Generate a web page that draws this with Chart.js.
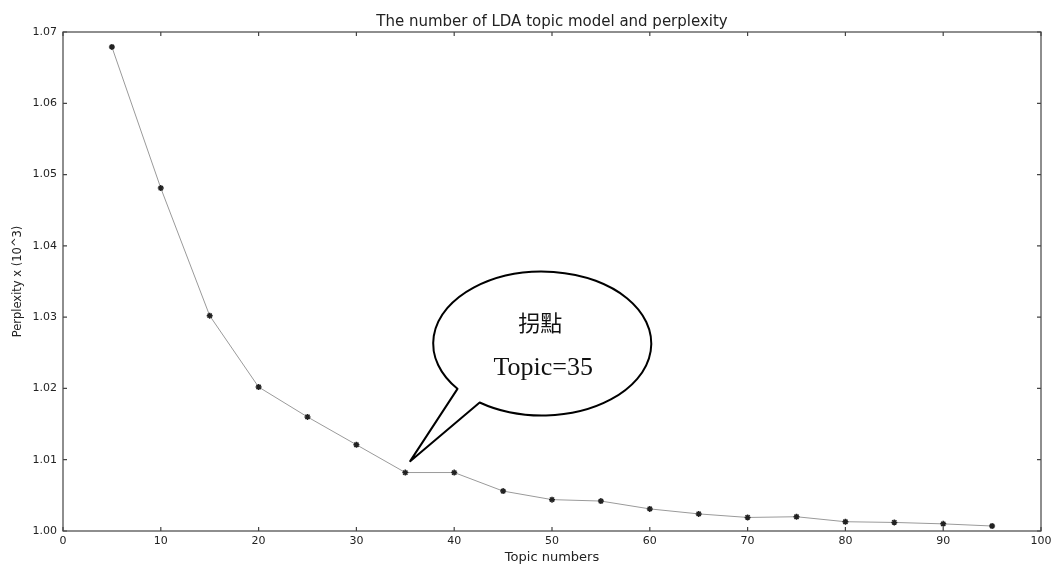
<!DOCTYPE html>
<html>
<head>
<meta charset="utf-8">
<script src="https://cdn.jsdelivr.net/npm/chart.js@4/dist/chart.umd.min.js"></script>
<style>
  html, body { margin: 0; padding: 0; background: #fff; }
  #wrap { width: 1053px; height: 565px; }
</style>
</head>
<body>
<div id="wrap"><canvas id="chart" width="1053" height="565"></canvas></div>
<script>
// ─── data ────────────────────────────────────────────────────────
const topics     = [5, 10, 15, 20, 25, 30, 35, 40, 45, 50, 55, 60, 65, 70, 75, 80, 85, 90, 95];
const perplexity = [1.0679, 1.0481, 1.0302, 1.0202, 1.0160, 1.0121, 1.0082, 1.0082, 1.0056, 1.0044,
                    1.0042, 1.0031, 1.0024, 1.0019, 1.0020, 1.0013, 1.0012, 1.0010, 1.0007];
const xTicks = [0, 10, 20, 30, 40, 50, 60, 70, 80, 90, 100];
const yTicks = [1.00, 1.01, 1.02, 1.03, 1.04, 1.05, 1.06, 1.07];

const titleText  = "The number of LDA topic model and perplexity";
const calloutTop = "拐點";
const calloutBot = "Topic=35";

const TEXT = "#222";
const FONT = "'DejaVu Sans', sans-serif";

// ─── frame: box + inward ticks on all four sides, plus title ──────
const framePlugin = {
  id: "frame",
  afterDraw(chart) {
    const { ctx, chartArea: a, scales: { x, y } } = chart;
    ctx.save();
    ctx.strokeStyle = "#444";
    ctx.lineWidth = 1.2;
    ctx.strokeRect(a.left, a.top, a.right - a.left, a.bottom - a.top);

    const len = 4;
    ctx.beginPath();
    xTicks.forEach(v => {
      const px = x.getPixelForValue(v);
      ctx.moveTo(px, a.bottom); ctx.lineTo(px, a.bottom - len);
      ctx.moveTo(px, a.top);    ctx.lineTo(px, a.top + len);
    });
    yTicks.forEach(v => {
      const py = y.getPixelForValue(v);
      ctx.moveTo(a.left, py);  ctx.lineTo(a.left + len, py);
      ctx.moveTo(a.right, py); ctx.lineTo(a.right - len, py);
    });
    ctx.stroke();

    // title centred over the plot area
    ctx.fillStyle = TEXT;
    ctx.font = "15px " + FONT;
    ctx.textAlign = "center";
    ctx.textBaseline = "middle";
    ctx.fillText(titleText, (a.left + a.right) / 2, 22);
    ctx.restore();
  }
};

// ─── speech bubble pointing at the elbow ─────────────────────────
const calloutPlugin = {
  id: "callout",
  afterDatasetsDraw(chart) {
    const { ctx, scales: { x, y } } = chart;
    const cx = x.getPixelForValue(49);
    const cy = y.getPixelForValue(1.0263);
    const rx = x.getPixelForValue(49 + 11.15) - cx;
    const ry = cy - y.getPixelForValue(1.0263 + 0.0101);
    const tipX = x.getPixelForValue(35.5);
    const tipY = y.getPixelForValue(1.0098);

    const t1 = 141 * Math.PI / 180;
    const t2 = 125 * Math.PI / 180;

    ctx.save();
    ctx.beginPath();
    ctx.ellipse(cx, cy, rx, ry, 0, t1, t2 + 2 * Math.PI, false);
    ctx.lineTo(tipX, tipY);
    ctx.closePath();
    ctx.fillStyle = "#fff";
    ctx.fill();
    ctx.strokeStyle = "#000";
    ctx.lineWidth = 2;
    ctx.lineJoin = "round";
    ctx.stroke();

    ctx.fillStyle = "#111";
    ctx.textAlign = "center";
    ctx.textBaseline = "middle";
    ctx.font = "22px 'Noto Sans CJK TC', sans-serif";
    ctx.fillText(calloutTop, cx - 2, cy - 21);
    ctx.font = "26px 'Liberation Serif', serif";
    ctx.fillText(calloutBot, cx + 1, cy + 25);
    ctx.restore();
  }
};

new Chart(document.getElementById("chart"), {
  type: "scatter",
  data: {
    datasets: [{
      data: topics.map((t, i) => ({ x: t, y: perplexity[i] })),
      showLine: true,
      borderColor: "#9a9a9a",
      borderWidth: 1,
      pointStyle: "star",
      pointRadius: 3,
      pointBorderColor: "#222",
      pointBackgroundColor: "#222",
      pointBorderWidth: 1.5
    }]
  },
  options: {
    responsive: false,
    animation: false,
    layout: { padding: { top: 32, right: 12, left: 0, bottom: 0 } },
    plugins: {
      legend: { display: false },
      tooltip: { enabled: false }
    },
    scales: {
      x: {
        type: "linear",
        min: 0, max: 100,
        afterBuildTicks: s => { s.ticks = xTicks.map(v => ({ value: v })); },
        afterFit: s => { s.height = 34; s.paddingRight = 0; s.paddingLeft = 0; },
        grid: { display: false, drawTicks: false },
        border: { display: false },
        ticks: { color: TEXT, font: { family: FONT, size: 11 }, padding: 4, maxRotation: 0 },
        title: { display: true, text: "Topic numbers", color: TEXT,
                 font: { family: FONT, size: 13 }, padding: { top: 0, bottom: 0 } }
      },
      y: {
        min: 1.00, max: 1.07,
        afterBuildTicks: s => { s.ticks = yTicks.map(v => ({ value: v })); },
        afterFit: s => { s.width = 63; },
        grid: { display: false, drawTicks: false },
        border: { display: false },
        ticks: { color: TEXT, font: { family: FONT, size: 11 }, padding: 6,
                 callback: v => v.toFixed(2) },
        title: { display: true, text: "Perplexity x (10^3)", color: TEXT,
                 font: { family: FONT, size: 11.5 }, padding: { top: 11, bottom: 0 } }
      }
    }
  },
  plugins: [framePlugin, calloutPlugin]
});
</script>
</body>
</html>
